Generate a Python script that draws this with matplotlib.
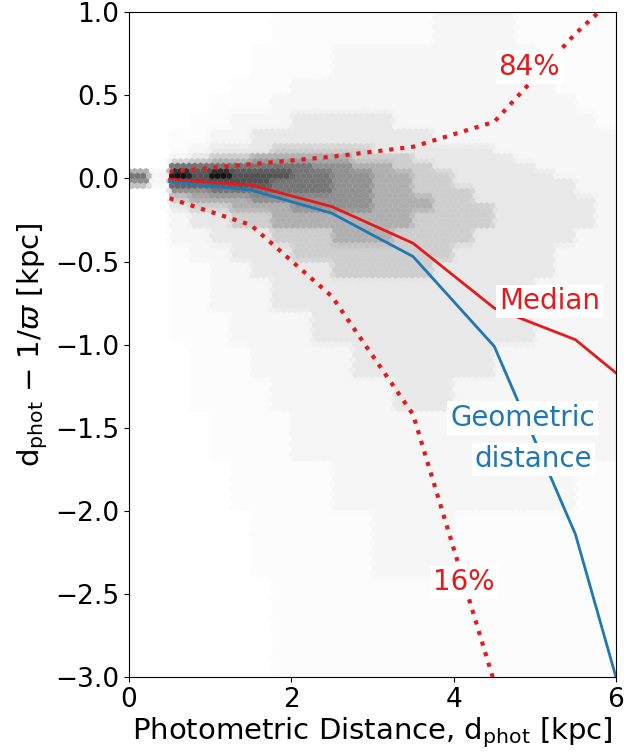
import numpy as np
import matplotlib
matplotlib.use('Agg')
import matplotlib.pyplot as plt

# binned curves (photometric distance bin centres, kpc)
d_bins = [0.5, 1.5, 2.5, 3.5, 4.5, 5.5, 6.5]
median = [-0.006, -0.04, -0.17, -0.39, -0.78, -0.97, -1.37]
geometric = [-0.02, -0.07, -0.21, -0.47, -1.01, -2.14, -3.86]
p84 = [0.04, 0.085, 0.13, 0.19, 0.34, 0.87, 1.32]
p16_bins = [0.5, 1.5, 2.5, 3.5, 4.5]
p16 = [-0.12, -0.28, -0.71, -1.42, -3.03]

# background density read off by eye as shade codes (0 = empty ... 9 = densest)
# columns are 0.25 kpc wide from 0 to 6, rows run top to bottom between y_edges
x_edges = np.arange(0, 6.01, 0.25)
y_edges = [1.0, 0.8, 0.6, 0.5, 0.4, 0.3, 0.2, 0.15, 0.1, 0.05, 0.0, -0.05, -0.1,
           -0.15, -0.2, -0.3, -0.4, -0.5, -0.6, -0.8, -1.0, -1.2, -1.4, -1.7,
           -2.0, -2.4, -3.0]
density_rows = [
    "0 0 0 0 0 0 0 1 1 1 1 1 1 1 1 2 2 2 2 1 1 1 1 1",
    "0 0 0 0 0 0 1 1 1 1 2 2 2 2 2 2 2 2 2 2 1 1 1 1",
    "0 0 0 0 0 1 1 1 2 2 2 2 2 2 2 2 2 2 2 2 2 1 1 1",
    "0 0 0 0 1 1 1 2 2 2 2 2 2 2 2 2 2 2 2 2 2 2 1 1",
    "0 0 0 1 1 2 2 2 3 3 3 3 3 2 2 2 2 2 2 2 2 2 2 1",
    "0 0 1 1 2 2 3 3 3 3 3 3 3 3 3 2 2 2 2 2 2 2 2 2",
    "0 0 1 2 3 3 3 4 4 4 4 4 3 3 3 3 3 3 2 2 2 2 2 2",
    "0 0 2 3 4 4 5 5 5 5 5 4 4 4 3 3 3 3 3 2 2 2 2 2",
    "0 0 7 7 7 7 7 7 7 6 6 5 5 4 4 3 3 3 3 3 2 2 2 2",
    "7 2 9 8 9 8 8 8 7 7 6 6 5 5 4 4 3 3 3 3 3 2 2 2",
    "6 2 8 8 8 8 8 7 7 7 6 6 5 5 4 4 3 3 3 3 3 3 2 2",
    "0 0 6 6 7 7 7 7 7 7 6 6 5 5 4 4 4 3 3 3 3 3 2 2",
    "0 0 4 5 5 5 6 6 6 6 6 6 5 5 5 4 4 3 3 3 3 3 3 2",
    "0 0 3 4 4 5 5 5 6 6 6 6 5 5 5 4 4 4 3 3 3 3 3 2",
    "0 0 2 3 3 4 4 5 5 5 5 5 5 5 4 4 4 4 3 3 3 3 3 2",
    "0 0 2 2 3 3 3 4 4 4 5 5 5 4 4 4 4 3 3 3 3 3 2 2",
    "0 0 1 2 2 3 3 3 4 4 4 4 4 4 4 4 3 3 3 3 3 2 2 2",
    "0 0 1 1 2 2 3 3 3 3 4 4 4 4 4 3 3 3 3 3 3 2 2 2",
    "0 0 1 1 2 2 2 3 3 3 3 3 3 3 3 3 3 3 3 3 2 2 2 2",
    "0 0 1 1 1 2 2 2 2 3 3 3 3 3 3 3 3 3 3 3 2 2 2 2",
    "0 0 0 1 1 1 2 2 2 2 2 3 3 3 3 3 3 3 2 2 2 2 2 2",
    "0 0 0 1 1 1 1 2 2 2 2 2 2 3 3 3 2 2 2 2 2 2 2 2",
    "0 0 0 0 1 1 1 1 2 2 2 2 2 2 2 2 2 2 2 2 2 2 2 2",
    "0 0 0 0 0 1 1 1 1 1 2 2 2 2 2 2 2 2 2 2 2 2 1 1",
    "0 0 0 0 0 0 1 1 1 1 1 1 2 2 2 2 1 1 1 1 1 1 1 1",
    "0 0 0 0 0 0 0 1 1 1 1 1 1 1 1 1 1 1 1 1 1 1 1 1",
]
shade = np.array([0, 0.03, 0.08, 0.17, 0.30, 0.42, 0.52, 0.62, 0.75, 0.95])

red = '#e41a1c'
blue = '#1f77b4'

codes = np.array([[int(v) for v in r.split()] for r in density_rows])
gx, gy = np.meshgrid(np.linspace(0.0025, 5.9975, 1200),
                     np.linspace(-2.9975, 0.9975, 800))
col = np.clip(np.searchsorted(x_edges, gx, side='right') - 1, 0, codes.shape[1] - 1)
row = np.clip(np.searchsorted(-np.array(y_edges), -gy, side='right') - 1, 0, codes.shape[0] - 1)
cval = shade[codes[row, col]]

fig = plt.figure(figsize=(6.26, 7.55), dpi=100)
ax = fig.add_axes([0.206, 0.103, 0.778, 0.881])

ax.hexbin(gx.ravel(), gy.ravel(), C=cval.ravel(), gridsize=(85, 67),
          extent=(0, 6, -3, 1), cmap='Greys', vmin=0, vmax=1,
          reduce_C_function=np.mean, linewidths=0.2, zorder=1)

ax.plot(d_bins, p84, ':', color=red, lw=3, zorder=3)
ax.plot(p16_bins, p16, ':', color=red, lw=3, zorder=3)
ax.plot(d_bins, median, '-', color=red, lw=2, zorder=3)
ax.plot(d_bins, geometric, '-', color=blue, lw=2, zorder=3)

box = dict(facecolor='white', edgecolor='none', pad=2)
ax.text(4.93, 0.67, '84%', color=red, fontsize=20, ha='center', va='center', bbox=box, zorder=4)
ax.text(5.18, -0.74, 'Median', color=red, fontsize=20, ha='center', va='center', bbox=box, zorder=4)
ax.text(4.85, -1.44, 'Geometric', color=blue, fontsize=20, ha='center', va='center', bbox=box, zorder=4)
ax.text(4.98, -1.69, 'distance', color=blue, fontsize=20, ha='center', va='center', bbox=box, zorder=4)
ax.text(4.13, -2.43, '16%', color=red, fontsize=20, ha='center', va='center', bbox=box, zorder=4)

ax.set_xlim(0, 6)
ax.set_ylim(-3, 1)
ax.set_xticks([0, 2, 4, 6])
ax.set_yticks(np.arange(-3, 1.01, 0.5))
ax.tick_params(labelsize=19)
ax.set_xlabel(r'Photometric Distance, d$_{\rm phot}$ [kpc]', fontsize=21, labelpad=2)
ax.set_ylabel(r'd$_{\rm phot}$ $-$ 1/$\varpi$ [kpc]', fontsize=21, labelpad=4)

fig.savefig('out.png', dpi=100)
